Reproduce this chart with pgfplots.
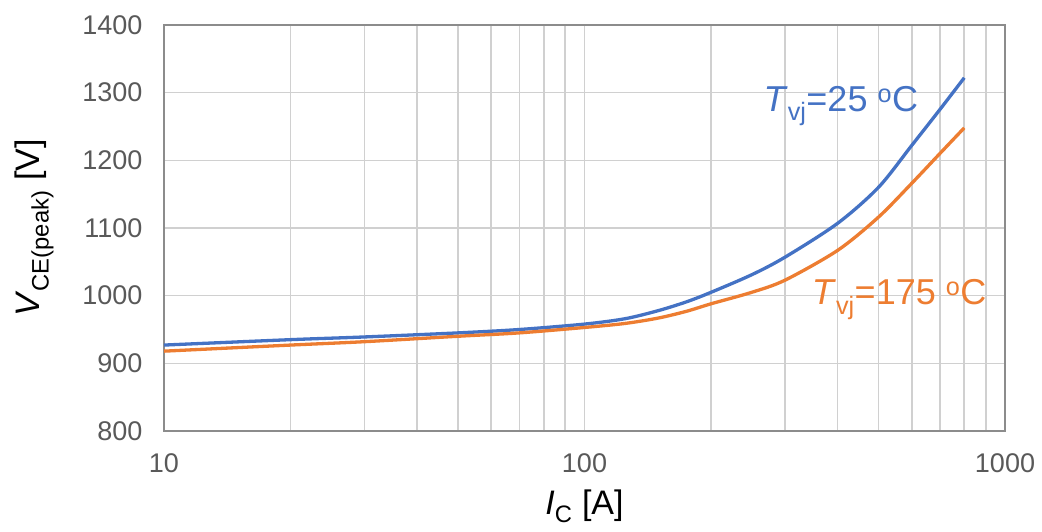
\documentclass[border=0pt]{standalone}
\usepackage{pgfplots}
\pgfplotsset{compat=1.18}
\usepackage{fontspec}
\setmainfont{Liberation Sans}
\definecolor{cblue}{HTML}{4472C4}
\definecolor{corange}{HTML}{ED7D31}
\definecolor{tickgray}{HTML}{595959}
\definecolor{axgray}{HTML}{8C8C8C}
\definecolor{gridgray}{HTML}{D0D0D0}
\begin{document}
\begin{tikzpicture}
\begin{axis}[
  at={(0,0)}, anchor=south west,
  scale only axis, width=841pt, height=406pt,
  xmode=log, xmin=10, xmax=1000, ymin=800, ymax=1400,
  xtick={10,100,1000}, xticklabels={10,100,1000},
  ytick={800,900,...,1400},
  /pgf/number format/assume math mode=true,
  /pgf/number format/1000 sep={},
  tick label style={font=\fontsize{27}{29}\selectfont, text=tickgray},
  xticklabel style={yshift=-19pt},
  yticklabel style={xshift=-18pt},
  major tick length=0pt, minor tick length=0pt,
  grid=both,
  major grid style={gridgray, line width=1.6pt},
  minor grid style={gridgray, line width=1.6pt},
  axis line style={axgray, line width=1.6pt},
  xlabel={\textit{I}\textsubscript{C} [A]},
  ylabel={\textit{V}\textsubscript{CE(peak)} [V]},
  label style={font=\fontsize{34}{36}\selectfont},
  xlabel style={yshift=-10pt},
  ylabel style={yshift=22pt},
  clip=false,
]
\addplot[cblue, line width=3.3pt, smooth] coordinates {
  (10,927) (20,935) (30,939) (50,945) (70,950) (100,958) (125,966)
  (150,978) (175,991) (200,1005) (250,1031) (300,1057) (400,1107) (500,1160) (600,1222)
  (700,1275) (800,1322)
};
\addplot[corange, line width=3.3pt, smooth] coordinates {
  (10,918) (20,927) (30,932) (50,940) (70,945) (100,953) (125,959)
  (150,967) (175,977) (200,988) (250,1005) (300,1023) (400,1067) (500,1116) (600,1166)
  (700,1210) (800,1248)
};
\node[text=cblue, font=\fontsize{36}{38}\selectfont] at (axis cs:407,1280)
  {\textit{T}\textsubscript{vj}=25 \textsuperscript{o}C};
\node[text=corange, font=\fontsize{36}{38}\selectfont] at (axis cs:560,994)
  {\textit{T}\textsubscript{vj}=175 \textsuperscript{o}C};
\end{axis}
\path (-164pt,-100pt) rectangle (878pt,431pt);
\end{tikzpicture}
\end{document}
